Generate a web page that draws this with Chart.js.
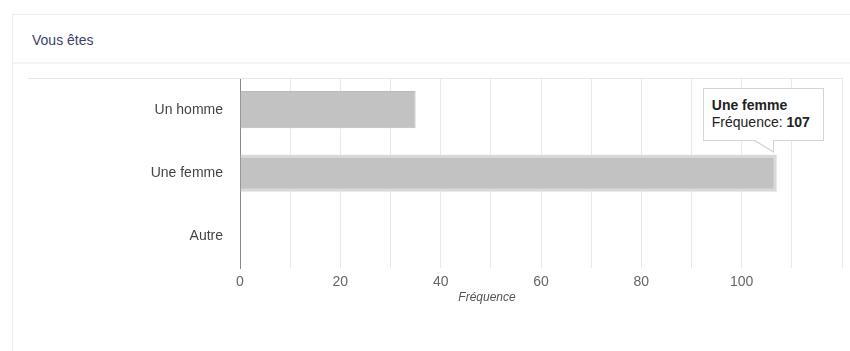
<!DOCTYPE html>
<html>
<head>
<meta charset="utf-8">
<script src="https://cdn.jsdelivr.net/npm/chart.js@4"></script>
<style>
  body { margin: 0; background: #fff; font-family: 'Liberation Sans', Arial, sans-serif; overflow: hidden; }
  .card { position: absolute; left: 12px; top: 14px; width: 900px; height: 400px; border: 1px solid #eceef5; border-right: none; }
  .card-head { height: 47px; border-bottom: 2px solid #f2f3f7; }
  .card-head span { position: absolute; left: 19px; top: 17px; font-size: 14px; color: #3c3f6e; }
  #wrap { position: absolute; left: 28px; top: 78px; width: 822px; height: 219px; }
  #chart { display: block; }
  .axis-title { position: absolute; left: 437px; width: 100px; top: 290px; text-align: center; font-size: 12px; font-style: italic; color: #555; }
  #tip { position: absolute; display: none; background: #fff; border: 1px solid #d4d4d4; padding: 8px 13px 9px 8px; font-size: 14px; line-height: 17px; color: #222; white-space: nowrap; }
  #tip:after, #tip:before { content: ''; position: absolute; width: 0; height: 0; border-style: solid; }
  #tip:before { bottom: -13px; right: 49px; border-width: 12px 0 0 20px; border-color: #d4d4d4 transparent transparent transparent; }
  #tip:after { bottom: -11px; right: 50px; border-width: 11px 0 0 18px; border-color: #fff transparent transparent transparent; }
</style>
</head>
<body>
<div class="card"><div class="card-head"><span>Vous êtes</span></div></div>
<div id="wrap"><canvas id="chart" width="822" height="219"></canvas></div>
<div class="axis-title">Fréquence</div>
<div id="tip"></div>
<script>
const categories = ['Un homme', 'Une femme', 'Autre'];
const frequences = [35, 107, 0];
const xTickLabels = ['0', '20', '40', '60', '80', '100'];
const seriesLabel = 'Fréquence';

const topLine = {
    id: 'topLine',
    afterDraw(chart) {
        const ctx = chart.ctx;
        const a = chart.chartArea;
        ctx.save();
        ctx.strokeStyle = '#e6e6e6';
        ctx.lineWidth = 1;
        ctx.beginPath();
        ctx.moveTo(0, a.top + 0.5);
        ctx.lineTo(a.right, a.top + 0.5);
        ctx.stroke();
        ctx.restore();
    }
};

function externalTip(context) {
    const tip = document.getElementById('tip');
    const t = context.tooltip;
    if (!t.dataPoints || !t.dataPoints.length) { tip.style.display = 'none'; return; }
    const dp = t.dataPoints[0];
    tip.innerHTML = '<b>' + t.title[0] + '</b><br>' + dp.dataset.label + ': <b>' + dp.raw + '</b>';
    tip.style.display = 'block';
    const el = dp.element;
    const box = context.chart.canvas.getBoundingClientRect();
    const tipX = box.left + el.x - 4;
    const tipY = box.top + el.y - el.height / 2 - 1;
    tip.style.left = (tipX - 70) + 'px';
    tip.style.top = (tipY - 12 - tip.offsetHeight) + 'px';
}

const chart = new Chart(document.getElementById('chart'), {
    type: 'bar',
    data: {
        labels: categories,
        datasets: [{
            label: seriesLabel,
            data: frequences,
            backgroundColor: '#c2c2c2',
            borderColor: '#b9b9b9',
            borderWidth: 1,
            hoverBackgroundColor: '#c2c2c2',
            hoverBorderColor: '#d9d9d9',
            hoverBorderWidth: 3,
            categoryPercentage: 0.8,
            barPercentage: 0.735
        }]
    },
    plugins: [topLine],
    options: {
        indexAxis: 'y',
        responsive: false,
        maintainAspectRatio: false,
        animation: false,
        events: [],
        layout: { padding: { top: 0, right: 8, bottom: 0, left: 0 } },
        plugins: {
            legend: { display: false },
            tooltip: { enabled: false, external: externalTip }
        },
        scales: {
            x: {
                min: 0,
                max: 120,
                grid: { color: '#e8e8e8', drawTicks: false },
                border: { display: false },
                ticks: {
                    stepSize: 10,
                    autoSkip: false,
                    maxRotation: 0,
                    padding: 6,
                    color: '#666',
                    font: { family: "'Liberation Sans', Arial", size: 14 },
                    callback: v => xTickLabels.includes(String(v)) ? v : ''
                }
            },
            y: {
                grid: { display: false, drawTicks: false },
                border: { display: true, color: '#888', width: 1 },
                afterFit: s => { s.width = 212; s.paddingTop = 0; s.paddingBottom = 0; },
                ticks: {
                    padding: 17,
                    color: '#444',
                    font: { family: "'Liberation Sans', Arial", size: 14 }
                }
            }
        }
    }
});

chart.setActiveElements([{ datasetIndex: 0, index: 1 }]);
chart.tooltip.setActiveElements([{ datasetIndex: 0, index: 1 }], { x: 770, y: 95 });
chart.update('none');
</script>
</body>
</html>
